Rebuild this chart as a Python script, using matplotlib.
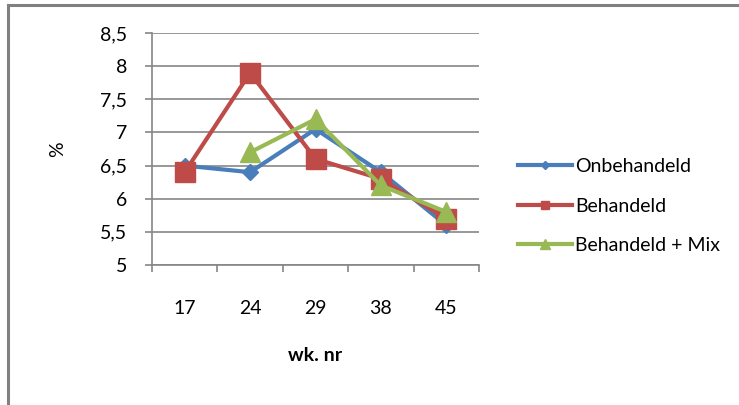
import numpy as np
import matplotlib.pyplot as plt
from matplotlib.patches import Rectangle

# data
weeks = ['17', '24', '29', '38', '45']
onbehandeld = [6.5, 6.4, 7.05, 6.4, 5.6]
behandeld = [6.4, 7.9, 6.6, 6.3, 5.7]
behandeld_mix = [np.nan, 6.7, 7.2, 6.2, 5.8]
y_ticks = [5, 5.5, 6, 6.5, 7, 7.5, 8, 8.5]

plt.rcParams['font.family'] = ['Lato', 'DejaVu Sans']

fig = plt.figure(figsize=(7.39, 4.05), dpi=100)
W, H = 739, 405
ax = fig.add_axes([152 / W, 1 - 265 / H, (479 - 152) / W, (265 - 33) / H])

# outer frame of the chart object
fig.patches.append(Rectangle((8 / W, -0.01), 1.0, 1 - 5 / H + 0.01, transform=fig.transFigure,
                             fill=False, edgecolor='#808080', linewidth=2.2))

x = np.arange(len(weeks))
ax.plot(x, onbehandeld, color='#4A7EBB', lw=3, marker='D', ms=8, label='Onbehandeld')
ax.plot(x, behandeld, color='#BE4B48', lw=3, marker='s', ms=14, label='Behandeld')
ax.plot(x, behandeld_mix, color='#98B954', lw=3, marker='^', ms=15, label='Behandeld + Mix')

ax.set_xlim(-0.5, len(weeks) - 0.5)
ax.set_ylim(5, 8.5)
ax.set_yticks(y_ticks)
ax.set_yticklabels([('%g' % v).replace('.', ',') for v in y_ticks], fontsize=14)
ax.set_xticks(x)
ax.set_xticklabels(weeks, fontsize=14)
ax.set_xticks(np.arange(len(weeks) + 1) - 0.5, minor=True)
ax.tick_params(axis='x', which='major', length=0, pad=25)
ax.tick_params(axis='x', which='minor', length=5, color='#868686', width=1.2)
ax.tick_params(axis='y', length=5, color='#868686', width=1.2, pad=13)

ax.grid(axis='y', color='#868686', lw=1.2)
ax.set_axisbelow(True)
for s in ['top', 'right']:
    ax.spines[s].set_visible(False)
ax.spines['left'].set_color('#868686')
ax.spines['bottom'].set_color('#868686')
ax.spines['left'].set_linewidth(1.2)
ax.spines['bottom'].set_linewidth(1.2)

ax.set_xlabel('wk. nr', fontsize=14, fontweight='bold', labelpad=22)
ax.set_ylabel('%', fontsize=14, labelpad=24)

ax.legend(loc='center left', bbox_to_anchor=(518 / W, 1 - 206 / H), bbox_transform=fig.transFigure,
          frameon=False, fontsize=14, borderpad=0, borderaxespad=0,
          handlelength=2.8, handletextpad=0.15, labelspacing=1.15, markerscale=0.45)

fig.savefig('out.png', dpi=100)
